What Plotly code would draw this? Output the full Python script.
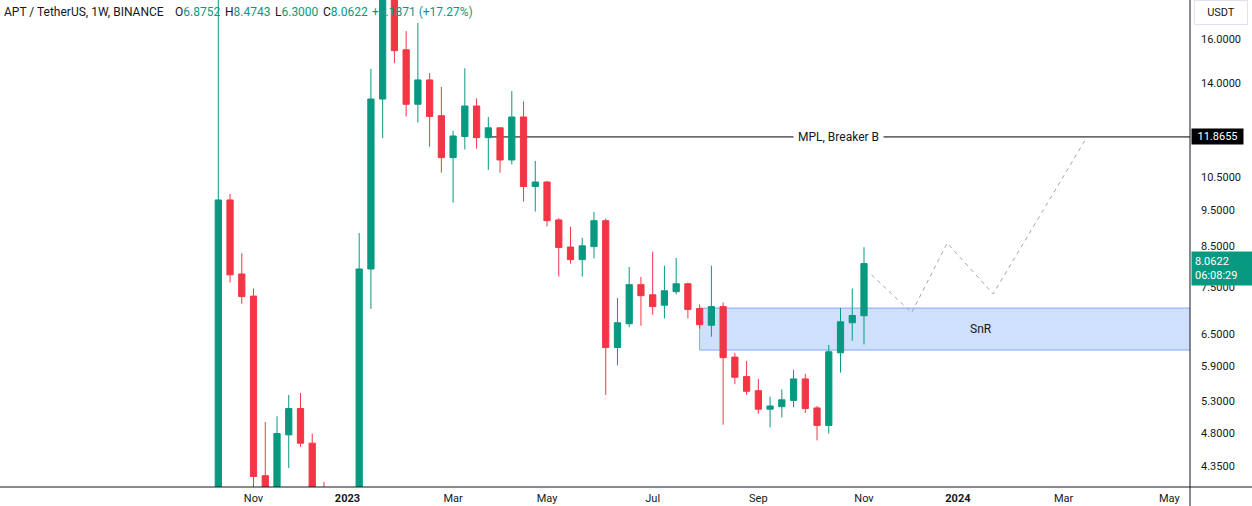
import math
import pandas as pd
import plotly.graph_objects as go

# ---------------- data ----------------
week_start = "2022-10-17"
dates = pd.date_range(week_start, periods=56, freq="W-MON")

opens = [3.40, 9.79, 7.81, 7.30, 4.22, 3.95, 4.78, 5.18, 4.66, 3.95, 3.50, 3.45, 3.90, 7.93,
         13.32, 19.50, 15.48, 13.11, 14.12, 12.66, 11.14, 11.88, 13.04, 11.84, 12.20, 11.06,
         12.61, 10.20, 10.34, 9.21, 8.48, 8.16, 8.49, 9.19, 6.24, 6.71, 7.56, 7.33, 7.10, 7.40,
         7.58, 7.03, 6.68, 7.07, 6.06, 5.71, 5.47, 5.17, 5.21, 5.31, 5.67, 5.19, 4.92, 6.14,
         6.73, 6.8752]
highs = [100.0, 9.97, 8.32, 7.47, 4.97, 5.06, 5.40, 5.43, 4.80, 4.14, 3.80, 4.00, 8.85, 14.60,
         20.40, 19.90, 16.39, 16.80, 14.42, 13.82, 12.09, 14.63, 13.35, 12.61, 12.22, 13.65,
         13.22, 11.03, 10.37, 9.26, 9.02, 8.72, 9.44, 9.25, 7.26, 7.98, 7.74, 8.36, 8.01, 8.20,
         7.61, 7.12, 8.01, 7.16, 6.14, 5.99, 5.67, 5.37, 5.49, 5.83, 5.76, 5.22, 6.29, 7.04,
         7.47, 8.4743]
lows = [3.40, 7.61, 7.13, 3.65, 3.70, 3.80, 4.32, 4.61, 3.80, 3.40, 3.10, 3.30, 3.75, 7.02,
        11.82, 14.86, 12.63, 12.40, 11.52, 10.64, 9.71, 11.42, 11.45, 10.73, 10.64, 10.91,
        9.74, 9.45, 9.03, 7.75, 8.06, 7.75, 8.19, 5.40, 5.91, 6.64, 6.67, 6.90, 6.82, 7.34,
        6.82, 6.61, 6.45, 4.93, 5.58, 5.40, 5.10, 4.89, 5.04, 5.20, 5.11, 4.70, 4.80, 5.78,
        6.37, 6.3000]
closes = [9.79, 7.79, 7.29, 4.21, 3.95, 4.80, 5.18, 4.66, 3.95, 3.50, 3.45, 3.90, 7.93, 13.32,
          19.50, 15.44, 13.11, 14.12, 12.63, 11.14, 11.90, 13.04, 11.84, 12.20, 11.06, 12.61,
          10.20, 10.34, 9.19, 8.47, 8.16, 8.51, 9.19, 6.24, 6.73, 7.56, 7.31, 7.07, 7.42, 7.58,
          7.01, 6.69, 7.07, 6.05, 5.70, 5.46, 5.17, 5.22, 5.32, 5.67, 5.18, 4.92, 6.16, 6.75,
          6.88, 8.0622]

mpl_level = 11.8655
mpl_start = "2023-03-27"
mpl_label = "MPL, Breaker B"

snr_low, snr_high = 6.192, 7.038
snr_start = "2023-07-31"
snr_label = "SnR"

proj_dates = ["2023-11-10 12:00", "2023-12-04 10:00", "2023-12-25 14:00", "2024-01-22", "2024-03-18"]
proj_prices = [7.79, 6.94, 8.58, 7.35, 11.8655]

far_right = "2024-12-31"

y_tickvals = [4.35, 4.8, 5.3, 5.9, 6.5, 7.5, 8.5, 9.5, 10.5, 14.0, 16.0]
y_ticktext = [f"{v:.4f}" for v in y_tickvals]

x_tickvals = ["2022-11-07", "2023-01-02", "2023-03-06", "2023-05-01", "2023-07-03",
              "2023-09-04", "2023-11-06", "2024-01-01", "2024-03-04", "2024-05-06"]
x_ticktext = ["Nov", "<b>2023</b>", "Mar", "May", "Jul", "Sep", "Nov", "<b>2024</b>", "Mar", "May"]

symbol_text = "APT / TetherUS, 1W, BINANCE"
ohlc_parts = [("O", "6.8752"), ("H", "8.4743"), ("L", "6.3000"), ("C", "8.0622")]
change_text = "+1.1871 (+17.27%)"
last_price = 8.0622
countdown = "06:08:29"
currency = "USDT"

# ---------------- style ----------------
GREEN = "#089981"
RED = "#F23645"
TXT = "#131722"
FONT = "Roboto"

W, H = 1252, 506
ML, MR, MT, MB = 0, 62, 0, 19
PW, PH = W - ML - MR, H - MT - MB

def px(xp):
    return xp / PW

def py(yp):
    return 1 - yp / PH

base = pd.Timestamp(week_start)
x_first_px, px_per_week = 218.3, 11.74
x_range = [base + pd.Timedelta(days=7 * (0 - x_first_px) / px_per_week),
           base + pd.Timedelta(days=7 * (PW - x_first_px) / px_per_week)]
y_range = [math.log10(4.077), math.log10(18.02)]

fig = go.Figure()

fig.add_trace(go.Candlestick(
    x=dates, open=opens, high=highs, low=lows, close=closes,
    increasing=dict(line=dict(color=GREEN, width=1), fillcolor=GREEN),
    decreasing=dict(line=dict(color=RED, width=1), fillcolor=RED),
    whiskerwidth=0, showlegend=False))

# projection path
fig.add_trace(go.Scatter(
    x=proj_dates, y=proj_prices, mode="lines",
    line=dict(color="#a3a6ae", width=1, dash="4px,4px"), hoverinfo="skip", showlegend=False))

shapes = [
    # SnR zone
    dict(type="rect", xref="x", yref="y", x0=snr_start, x1=far_right, y0=snr_low, y1=snr_high,
         fillcolor="#cfe0fc", line=dict(color="#80a9f6", width=1), layer="below"),
    # MPL line
    dict(type="line", xref="x", yref="y", x0=mpl_start, x1=far_right, y0=mpl_level, y1=mpl_level,
         line=dict(color="#000000", width=1), layer="below"),
    # axis frame lines
    dict(type="line", xref="paper", yref="paper", x0=0, x1=W / PW, y0=0, y1=0,
         line=dict(color=TXT, width=1)),
    dict(type="line", xref="paper", yref="paper", x0=1, x1=1, y0=-MB / PH, y1=1,
         line=dict(color=TXT, width=1)),
]

ann = []
# header
ann.append(dict(text=symbol_text, x=px(1.5), y=py(11.5), xref="paper", yref="paper",
                xanchor="left", yanchor="middle", showarrow=False,
                font=dict(family=FONT, size=12, color=TXT)))
hx = [172.5, 222.5, 272.5, 320.5]
for (lab, val), xx in zip(ohlc_parts, hx):
    ann.append(dict(text=f"{lab}<span style='color:{GREEN}'>{val}</span>", x=px(xx), y=py(11.5),
                    xref="paper", yref="paper", xanchor="left", yanchor="middle", showarrow=False,
                    font=dict(family=FONT, size=12, color=TXT)))
ann.append(dict(text=change_text, x=px(370), y=py(11.5), xref="paper", yref="paper",
                xanchor="left", yanchor="middle", showarrow=False,
                font=dict(family=FONT, size=12, color=GREEN)))
# MPL label
ann.append(dict(text=mpl_label, x=px(838), y=math.log10(mpl_level), xref="paper", yref="y",
                xanchor="center", yanchor="middle", showarrow=False, bgcolor="#ffffff",
                borderpad=4, font=dict(family=FONT, size=12, color=TXT)))
# SnR label
ann.append(dict(text=snr_label, x=px(981), y=math.log10(math.sqrt(snr_low * snr_high)),
                xref="paper", yref="y", xanchor="center", yanchor="middle", showarrow=False,
                font=dict(family=FONT, size=12, color=TXT)))
# currency box
ann.append(dict(text=currency, x=px(1221), y=py(12), xref="paper", yref="paper",
                xanchor="center", yanchor="middle", showarrow=False, bgcolor="#ffffff",
                bordercolor="#e0e3eb", borderwidth=1, borderpad=5, width=42,
                font=dict(family=FONT, size=11, color=TXT)))
# MPL price label
ann.append(dict(text=f"{mpl_level:.4f}", x=px(1191), y=math.log10(mpl_level), xref="paper",
                yref="y", xanchor="left", yanchor="middle", showarrow=False, bgcolor="#000000",
                borderpad=1, width=49, align="center",
                font=dict(family=FONT, size=11, color="#ffffff")))
# last price label
ann.append(dict(text=f"{last_price:.4f}<br>{countdown}", x=px(1191), y=math.log10(last_price),
                xref="paper", yref="y", xanchor="left", yanchor="middle", yshift=-5,
                showarrow=False, bgcolor=GREEN, borderpad=3, width=55, align="left",
                font=dict(family=FONT, size=11, color="#ffffff")))

fig.update_layout(
    width=W, height=H, margin=dict(l=ML, r=MR, t=MT, b=MB),
    paper_bgcolor="#ffffff", plot_bgcolor="#ffffff",
    showlegend=False, annotations=ann, shapes=shapes, boxgap=0.24,
    font=dict(family=FONT, size=11, color=TXT),
    xaxis=dict(type="date", range=x_range, rangeslider=dict(visible=False),
               showgrid=False, zeroline=False, showline=False,
               tickmode="array", tickvals=x_tickvals, ticktext=x_ticktext,
               ticks="", ticklabelstandoff=3, tickfont=dict(family=FONT, size=11, color=TXT)),
    yaxis=dict(type="log", side="right", range=y_range, showgrid=False, zeroline=False,
               showline=False, tickmode="array", tickvals=y_tickvals, ticktext=y_ticktext,
               ticks="", ticklabelstandoff=10, tickfont=dict(family=FONT, size=11, color=TXT)),
)

fig.write_html("out.html")
